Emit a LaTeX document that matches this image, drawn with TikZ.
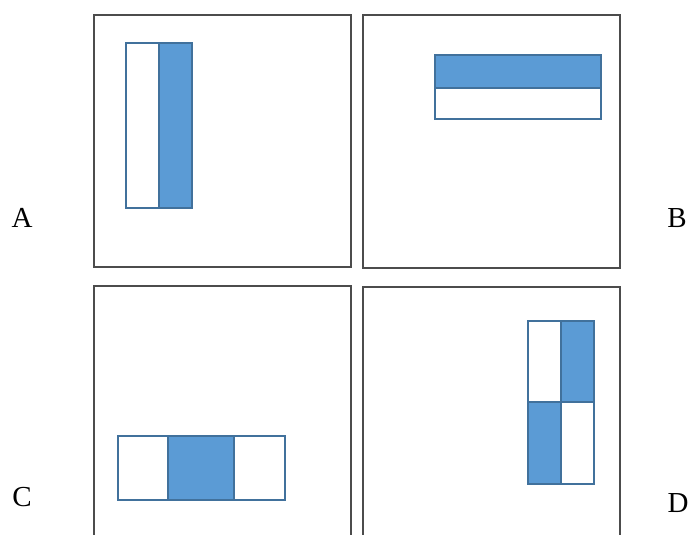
\documentclass[tikz,border=0pt]{standalone}
\usepackage{fontspec}
\setmainfont{Liberation Serif}
\definecolor{haarblue}{HTML}{5B9BD5}
\definecolor{haaredge}{HTML}{41719C}
\tikzset{
  panel/.style={draw=black!70, line width=1.8pt},
  haarwhite/.style={draw=haaredge, line width=1.2pt, fill=white},
  haarfill/.style={draw=haaredge, line width=1.2pt, fill=haarblue},
  caption/.style={font=\fontsize{29}{32}\selectfont, inner sep=0pt}
}
\begin{document}
\begin{tikzpicture}[x=1pt, y=-1pt]
  \clip (0,0) rectangle (691,535);
  \useasboundingbox (0,0) rectangle (691,535);
  % frames
  \draw[panel] (94,15) rectangle (351,267);
  \draw[panel] (363,15) rectangle (620,268);
  \draw[panel] (94,286) rectangle (351,560);
  \draw[panel] (363,287) rectangle (620,560);
  % A: two vertical bars
  \draw[haarwhite] (126,43) rectangle (159,208);
  \draw[haarfill]  (159,43) rectangle (192,208);
  % B: two horizontal bars
  \draw[haarfill]  (435,55) rectangle (601,88);
  \draw[haarwhite] (435,88) rectangle (601,119);
  % C: three bars
  \draw[haarwhite] (118,436) rectangle (168,500);
  \draw[haarfill]  (168,436) rectangle (234,500);
  \draw[haarwhite] (234,436) rectangle (285,500);
  % D: checkerboard
  \draw[haarwhite] (528,321) rectangle (561,402);
  \draw[haarfill]  (561,321) rectangle (594,402);
  \draw[haarfill]  (528,402) rectangle (561,484);
  \draw[haarwhite] (561,402) rectangle (594,484);
  % labels
  \node[caption] (labA) at (22,218) {A};
  \node[caption] (labB) at (677,218) {B};
  \node[caption] (labC) at (22,497) {C};
  \node[caption] (labD) at (678,503) {D};
\end{tikzpicture}
\end{document}
